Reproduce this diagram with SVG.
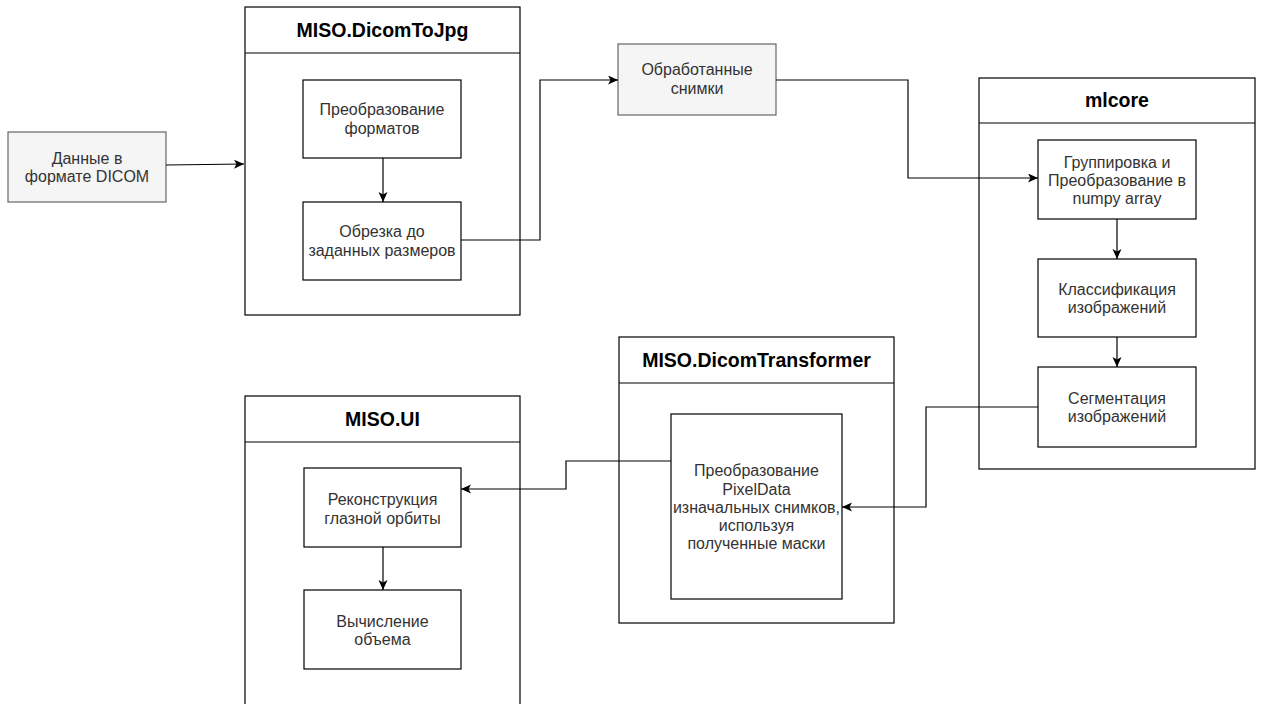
<svg xmlns="http://www.w3.org/2000/svg" width="1262" height="704" viewBox="0 0 1262 704">
<style>
.cont{fill:#fff;stroke:#000;stroke-width:1.2}
.box{fill:#fff;stroke:#000;stroke-width:1.2}
.ext{fill:#f5f5f5;stroke:#666;stroke-width:1.2}
.title{font-family:"Liberation Sans",Arial,sans-serif;font-weight:bold;font-size:19.5px;fill:#000;text-anchor:middle}
.lbl{font-family:"Liberation Sans",Arial,sans-serif;font-size:16px;fill:#333;text-anchor:middle}
.conn{fill:none;stroke:#000;stroke-width:1.2}
</style>
<defs>
<marker id="arr" markerUnits="userSpaceOnUse" markerWidth="12" markerHeight="10" refX="10" refY="4.5" orient="auto">
<path d="M0,0 L10,4.5 L0,9 L2.5,4.5 Z" fill="#000"/>
</marker>
</defs>
<rect width="1262" height="704" fill="#fff"/>

<g id="dicom-data">
<rect class="ext" x="8" y="132" width="158" height="70"/>
<text class="lbl" x="87" y="164">Данные в</text>
<text class="lbl" x="87" y="182">формате DICOM</text>
</g>

<g id="dicomtojpg">
<rect class="cont" x="245" y="7" width="275" height="308"/>
<line class="cont" x1="245" y1="53" x2="520" y2="53"/>
<text class="title" x="382.5" y="37">MISO.DicomToJpg</text>
</g>
<g id="format-convert">
<rect class="box" x="303" y="80" width="158" height="78"/>
<text class="lbl" x="382" y="115">Преобразование</text>
<text class="lbl" x="382" y="134">форматов</text>
</g>
<g id="crop">
<rect class="box" x="303" y="202" width="158" height="78"/>
<text class="lbl" x="382" y="237">Обрезка до</text>
<text class="lbl" x="382" y="256">заданных размеров</text>
</g>

<g id="processed">
<rect class="ext" x="618" y="44" width="158" height="71"/>
<text class="lbl" x="697" y="75">Обработанные</text>
<text class="lbl" x="697" y="94">снимки</text>
</g>

<g id="mlcore">
<rect class="cont" x="979" y="78" width="276" height="391"/>
<line class="cont" x1="979" y1="123" x2="1255" y2="123"/>
<text class="title" x="1117" y="107">mlcore</text>
</g>
<g id="grouping">
<rect class="box" x="1038" y="140" width="158" height="79"/>
<text class="lbl" x="1117" y="168">Группировка и</text>
<text class="lbl" x="1117" y="186">Преобразование в</text>
<text class="lbl" x="1117" y="204">numpy array</text>
</g>
<g id="classification">
<rect class="box" x="1038" y="259" width="158" height="78"/>
<text class="lbl" x="1117" y="295">Классификация</text>
<text class="lbl" x="1117" y="313">изображений</text>
</g>
<g id="segmentation">
<rect class="box" x="1038" y="367" width="158" height="80"/>
<text class="lbl" x="1117" y="404">Сегментация</text>
<text class="lbl" x="1117" y="422">изображений</text>
</g>

<g id="dicomtransformer">
<rect class="cont" x="619" y="337" width="275" height="286"/>
<line class="cont" x1="619" y1="383" x2="894" y2="383"/>
<text class="title" x="756.5" y="367">MISO.DicomTransformer</text>
</g>
<g id="pixeldata">
<rect class="box" x="671" y="414" width="171" height="185"/>
<text class="lbl" x="756.5" y="476">Преобразование</text>
<text class="lbl" x="756.5" y="494.5">PixelData</text>
<text class="lbl" x="756.5" y="513">изначальных снимков,</text>
<text class="lbl" x="756.5" y="531">используя</text>
<text class="lbl" x="756.5" y="549">полученные маски</text>
</g>

<g id="misoui">
<rect class="cont" x="245" y="396" width="275" height="320"/>
<line class="cont" x1="245" y1="442" x2="520" y2="442"/>
<text class="title" x="382.5" y="426">MISO.UI</text>
</g>
<g id="reconstruction">
<rect class="box" x="304" y="468" width="157" height="79"/>
<text class="lbl" x="382.5" y="505">Реконструкция</text>
<text class="lbl" x="382.5" y="524">глазной орбиты</text>
</g>
<g id="volume">
<rect class="box" x="304" y="590" width="157" height="79"/>
<text class="lbl" x="382.5" y="627">Вычисление</text>
<text class="lbl" x="382.5" y="645">объема</text>
</g>

<g id="connectors">
<path class="conn" marker-end="url(#arr)" d="M166,165 L244,164"/>
<path class="conn" marker-end="url(#arr)" d="M383,158 L383,202"/>
<path class="conn" marker-end="url(#arr)" d="M461,240 L540,240 L540,80 L618,80"/>
<path class="conn" marker-end="url(#arr)" d="M776,80 L908,80 L908,178 L1038,178"/>
<path class="conn" marker-end="url(#arr)" d="M1117,219 L1117,259"/>
<path class="conn" marker-end="url(#arr)" d="M1117,337 L1117,367"/>
<path class="conn" marker-end="url(#arr)" d="M1038,407 L926,407 L926,507 L842,507"/>
<path class="conn" marker-end="url(#arr)" d="M671,461 L566,461 L566,489 L461,489"/>
<path class="conn" marker-end="url(#arr)" d="M383,547 L383,590"/>
</g>
</svg>
